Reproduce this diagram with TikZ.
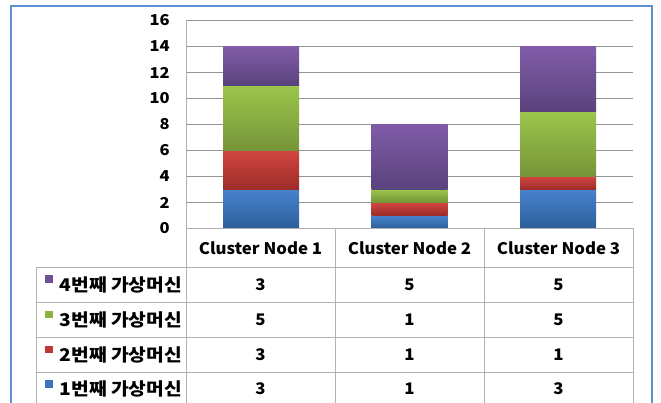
\documentclass[tikz,border=0pt]{standalone}
\usepackage{fontspec}
\setmainfont{Noto Sans CJK KR}
\begin{document}
\begin{tikzpicture}[x=1pt,y=-1pt,
  grid/.style={draw=black!42,line width=0.9pt},
  tab/.style={draw=black!30,line width=0.9pt},
  ylab/.style={anchor=east,inner sep=0pt,xscale=1.1,font=\fontsize{15}{15}\selectfont\bfseries},
  cell/.style={inner sep=0pt,xscale=1.05,font=\fontsize{16}{16}\selectfont\bfseries},
  leg/.style={anchor=west,inner sep=0pt,xscale=1.1,font=\fontsize{17.5}{17.5}\selectfont\bfseries},
  frame/.style={draw={rgb,255:red,95;green,145;blue,215},line width=1.4pt}]
\definecolor{bT}{RGB}{72,130,206}\definecolor{bB}{RGB}{44,94,154}
\definecolor{rT}{RGB}{210,70,66}\definecolor{rB}{RGB}{156,44,40}
\definecolor{gT}{RGB}{156,198,76}\definecolor{gB}{RGB}{117,148,56}
\definecolor{pT}{RGB}{128,92,168}\definecolor{pB}{RGB}{90,66,124}
\definecolor{bM}{RGB}{60,115,185}\definecolor{rM}{RGB}{190,55,52}
\definecolor{gM}{RGB}{140,178,66}\definecolor{pM}{RGB}{112,80,150}
\useasboundingbox (0,0) rectangle (661,403);
\fill[white] (0,0) rectangle (661,403);
% frame
\draw[frame] (11,410) -- (11,6) -- (652,6) -- (652,410);
% gridlines
\foreach \v in {2,4,...,16} \draw[grid] (186,{228.5-13*\v}) -- (633,{228.5-13*\v});
\foreach \v in {0,2,...,16} \node[ylab] (y\v) at (170,{228.5-13*\v}) {\v};
% bars
\foreach \i/\xl/\a/\b/\c/\d in {1/223/3/3/5/3, 2/371.5/1/1/1/5, 3/520/3/1/5/5}{
  \pgfmathsetmacro\ya{228.5-13*\a}
  \pgfmathsetmacro\yb{\ya-13*\b}
  \pgfmathsetmacro\yc{\yb-13*\c}
  \pgfmathsetmacro\yd{\yc-13*\d}
  \shade[top color=bT,bottom color=bB] (\xl,228.5) rectangle ({\xl+76},\ya);
  \shade[top color=rT,bottom color=rB] (\xl,\ya) rectangle ({\xl+76},\yb);
  \shade[top color=gT,bottom color=gB] (\xl,\yb) rectangle ({\xl+76},\yc);
  \shade[top color=pT,bottom color=pB] (\xl,\yc) rectangle ({\xl+76},\yd);
}
% table
\draw[tab] (186,228.5) -- (633,228.5);
\foreach \y in {267,302,337,372} \draw[tab] (36,\y) -- (633,\y);
\draw[tab] (36,267) -- (36,410);
\draw[tab] (186,20.5) -- (186,410);
\foreach \x in {335,484,633} \draw[tab] (\x,228.5) -- (\x,410);
% header
\foreach \i/\x in {1/260.5,2/409.5,3/558.5}
  \node[cell] (h\i) at (\x,248) {Cluster Node \i};
% legend rows
\foreach \r/\y/\c in {4/284.5/pM,3/319.5/gM,2/354.5/rM,1/389/bM}{
  \fill[\c] (45,{\y-9}) rectangle (53,{\y-1.5});
  \node[leg] (l\r) at (59.5,\y) {{\r}번째 가상머신};
}
% values
\foreach \r/\y/\a/\b/\c in {4/284.5/3/5/5, 3/319.5/5/1/5, 2/354.5/3/1/1, 1/389/3/1/3}{
  \node[cell] (v\r a) at (260.5,\y) {\a};
  \node[cell] (v\r b) at (409.5,\y) {\b};
  \node[cell] (v\r c) at (558.5,\y) {\c};
}
\end{tikzpicture}
\end{document}
